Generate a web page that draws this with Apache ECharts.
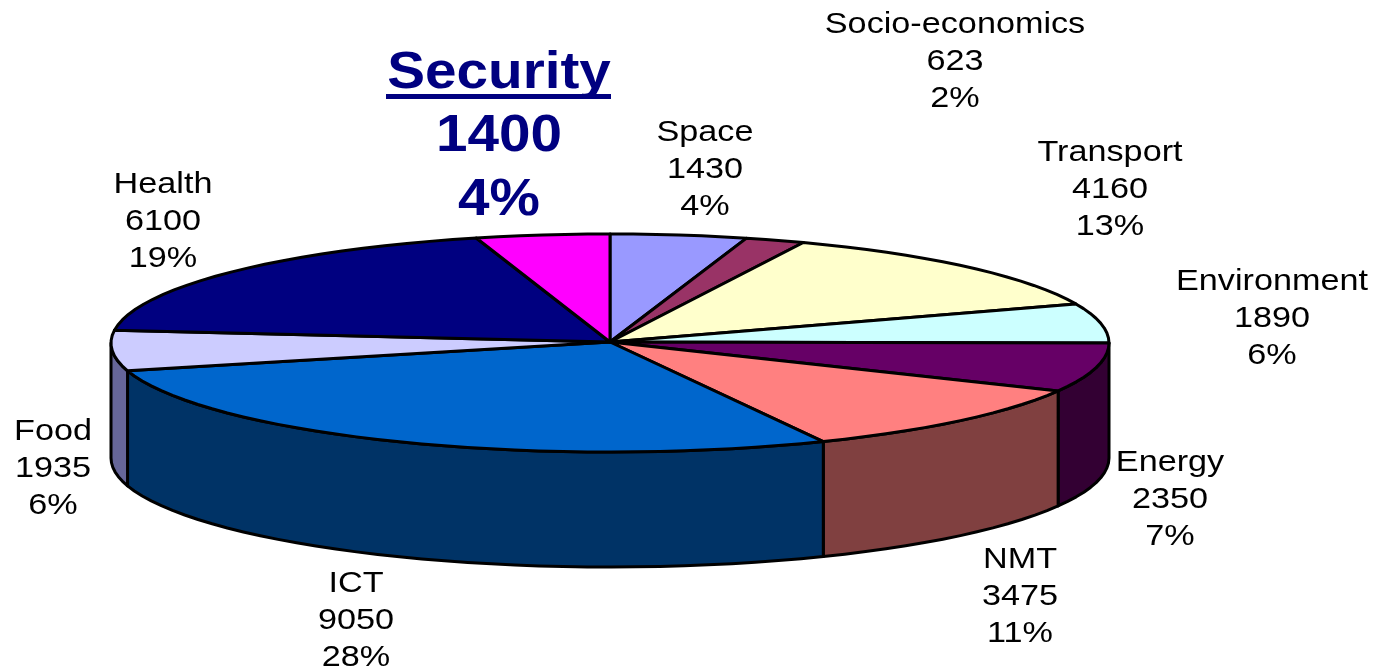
<!DOCTYPE html>
<html>
<head>
<meta charset="utf-8">
<style>
  html, body { margin: 0; padding: 0; background: #fff; }
  #chart { width: 1374px; height: 669px; }
</style>
<script src="https://cdn.jsdelivr.net/npm/echarts@6/dist/echarts.min.js"></script>
</head>
<body>
<div id="chart"></div>
<script>
// clockwise from 12 o'clock
const names = ['Space', 'Socio-economics', 'Transport', 'Environment', 'Energy', 'NMT', 'ICT', 'Food', 'Health', 'Security'];
const values = [1430, 623, 4160, 1890, 2350, 3475, 9050, 1935, 6100, 1400];
const percents = ['4%', '2%', '13%', '6%', '7%', '11%', '28%', '6%', '19%', '4%'];

const topColors = ['#9999FF', '#993366', '#FFFFCC', '#CCFFFF', '#660066', '#FF8080', '#0066CC', '#CCCCFF', '#000080', '#FF00FF'];
const sideColors = ['#666699', '#662244', '#808066', '#668080', '#330033', '#804040', '#003366', '#666699', '#000040', '#800080'];

// label centres, placed by hand like the original
const labelX = [705, 955, 1110, 1272, 1170, 1020, 356, 53, 163, 499];
const labelY = [170, 62, 190, 319, 500, 597, 621, 469, 222, 137];

const CX = 610, CY = 343, RX = 499, RY = 109, DEPTH = 115;
const HIGHLIGHT = 9; // Security gets the big bold label

const total = values.reduce(function (a, b) { return a + b; }, 0);
const starts = [];
values.reduce(function (sum, v, i) {
    starts[i] = sum;
    return sum + v;
}, 0);

function angleOf(v) {
    return v / total * Math.PI * 2;
}

function rim(a, dy) {
    return [CX + RX * Math.sin(a), CY - RY * Math.cos(a) + (dy || 0)];
}

function arcPoints(a0, a1, dy) {
    const pts = [];
    // coarse steps, the original outline is visibly faceted
    const n = Math.max(2, Math.ceil((a1 - a0) / 0.05));
    for (let i = 0; i <= n; i++) {
        pts.push(rim(a0 + (a1 - a0) * i / n, dy));
    }
    return pts;
}

function renderSide(params, api) {
    const i = params.dataIndex;
    // only the front half of the disc shows a wall
    const a0 = Math.max(angleOf(starts[i]), Math.PI / 2);
    const a1 = Math.min(angleOf(starts[i] + api.value(0)), Math.PI * 3 / 2);
    if (a1 <= a0) return null;
    const pts = arcPoints(a0, a1, 0).concat(arcPoints(a0, a1, DEPTH).reverse());
    return {
        type: 'polygon',
        shape: { points: pts },
        style: { fill: sideColors[i], stroke: '#000', lineWidth: 3, lineJoin: 'round' }
    };
}

function renderTop(params, api) {
    const i = params.dataIndex;
    const a0 = angleOf(starts[i]);
    const a1 = angleOf(starts[i] + api.value(0));
    const pts = [[CX, CY - 1]].concat(arcPoints(a0, a1, 0));
    return {
        type: 'polygon',
        shape: { points: pts },
        style: { fill: topColors[i], stroke: '#000', lineWidth: 3, lineJoin: 'round' }
    };
}

function renderLabel(params, api) {
    const i = params.dataIndex;
    const big = i === HIGHLIGHT;
    const children = [{
        type: 'text',
        x: labelX[i],
        y: labelY[i],
        scaleX: big ? 1.09 : 1.14,
        style: {
            text: names[i] + '\n' + api.value(0) + '\n' + percents[i],
            x: 0,
            y: 0,
            align: 'center',
            verticalAlign: 'middle',
            fontFamily: '"Liberation Sans", Arial, sans-serif',
            fontSize: big ? 52 : 30,
            fontWeight: big ? 'bold' : 'normal',
            lineHeight: big ? 63.5 : 37,
            fill: big ? '#000080' : '#000'
        }
    }];
    if (big) {
        // zrender has no text underline
        children.push({
            type: 'rect',
            shape: { x: labelX[i] - 113, y: labelY[i] - 43, width: 225, height: 5 },
            style: { fill: '#000080' }
        });
    }
    return { type: 'group', children: children };
}

const chart = echarts.init(document.getElementById('chart'));
chart.setOption({
    backgroundColor: '#fff',
    animation: false,
    series: [
        { type: 'custom', coordinateSystem: 'none', silent: true, data: values, renderItem: renderSide, z: 1 },
        { type: 'custom', coordinateSystem: 'none', silent: true, data: values, renderItem: renderTop, z: 2 },
        { type: 'custom', coordinateSystem: 'none', silent: true, data: values, renderItem: renderLabel, z: 3 }
    ]
});
</script>
</body>
</html>
